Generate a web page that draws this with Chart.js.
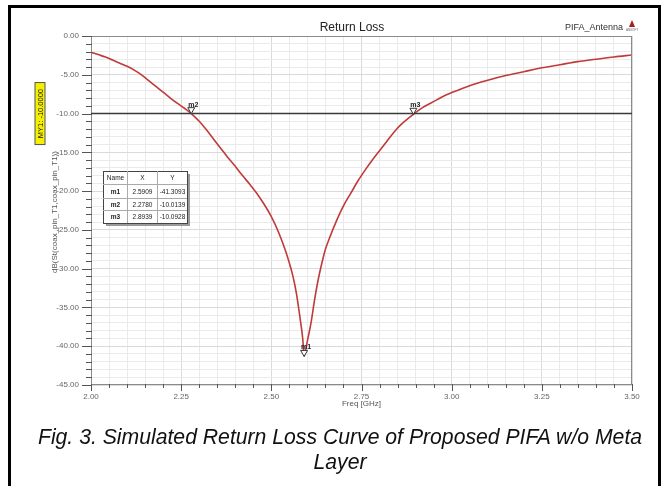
<!DOCTYPE html>
<html>
<head>
<meta charset="utf-8">
<script src="https://cdn.jsdelivr.net/npm/chart.js@4/dist/chart.umd.min.js"></script>
<style>
  body { margin: 0; background: #fff; }
  #wrap { position: relative; width: 665px; height: 486px; overflow: hidden; }
  #chart { position: absolute; left: 0; top: 0; }
  #frame {
    position: absolute; left: 8px; top: 5px; width: 647px; height: 500px;
    border-left: 3px solid #000; border-top: 3px solid #000; border-right: 3px solid #000;
  }
  #caption {
    position: absolute; left: 15px; width: 650px; top: 424px;
    text-align: center; font: italic 21.2px "Liberation Sans", Arial, sans-serif;
    line-height: 25px; color: #111;
  }
</style>
</head>
<body>
<div id="wrap">
  <div id="frame"></div>
  <canvas id="chart" width="665" height="486"></canvas>
  <div id="caption">Fig. 3. Simulated Return Loss Curve of Proposed PIFA w/o Meta<br>Layer</div>
</div>
<script>
/* DATA */
// S11 CURVE (GHz, dB)
const freqGHz = [2.00, 2.02, 2.04, 2.06, 2.08, 2.10, 2.12, 2.14, 2.16, 2.18, 2.20, 2.22, 2.24, 2.26, 2.278,
  2.30, 2.32, 2.34, 2.36, 2.38, 2.40, 2.42, 2.44, 2.46, 2.48, 2.50, 2.52, 2.54, 2.56, 2.57, 2.58, 2.587, 2.5909,
  2.595, 2.60, 2.605, 2.61, 2.62, 2.63, 2.64, 2.65, 2.66, 2.68, 2.70, 2.72, 2.74, 2.76, 2.78, 2.80, 2.82, 2.84,
  2.86, 2.8939, 2.92, 2.94, 2.96, 2.98, 3.00, 3.05, 3.10, 3.15, 3.20, 3.25, 3.30, 3.35, 3.40, 3.45, 3.50];
const returnLossDb = [-2.1, -2.4, -2.7, -3.1, -3.5, -3.9, -4.4, -5.0, -5.75, -6.5, -7.25, -8.0, -8.7, -9.35, -10.0,
  -11.0, -12.1, -13.3, -14.5, -15.7, -16.8, -18.0, -19.1, -20.3, -21.7, -23.3, -25.3, -27.8, -31.0, -33.3, -36.5,
  -39.0, -41.3, -40.5, -39.3, -38.2, -37.0, -34.0, -31.4, -29.3, -27.5, -26.2, -23.9, -21.9, -20.3, -18.7, -17.3,
  -16.0, -14.8, -13.6, -12.4, -11.4, -10.09, -9.2, -8.7, -8.2, -7.7, -7.3, -6.4, -5.7, -5.1, -4.6, -4.1, -3.7,
  -3.3, -3.0, -2.7, -2.45];
// MARKERS
const markerNames = ["m1", "m2", "m3"];
const markerFreq = [2.5909, 2.2780, 2.8939];
const markerDb = [-41.3093, -10.0139, -10.0928];
const refLineDb = -10;
// AXES
const xMin = 2.0, xMax = 3.5, xMinorStep = 0.05, xMajorStep = 0.25;
const yMin = -45, yMax = 0, yMinorStep = 1, yMajorStep = 5;

const narrow = '"Liberation Sans Narrow", "Liberation Sans", Arial, sans-serif';

function isMajor(v, step) {
  return Math.abs(v / step - Math.round(v / step)) < 1e-6;
}

/* DECORATIONS: TICKS, BORDER, MARKERS, TABLE, TITLES */
const decor = {
  id: "decor",
  afterDatasetsDraw(chart) {
    const ctx = chart.ctx;
    const a = chart.chartArea;
    const xs = chart.scales.x;
    const ys = chart.scales.y;
    ctx.save();

    // plot border
    ctx.strokeStyle = "#8a8a8a";
    ctx.lineWidth = 1;
    ctx.strokeRect(a.left + 0.5, a.top + 0.5, a.right - a.left - 1, a.bottom - a.top - 1);

    // tick marks
    ctx.strokeStyle = "#555";
    ys.ticks.forEach((t) => {
      const y = Math.round(ys.getPixelForValue(t.value)) + 0.5;
      const len = isMajor(t.value, yMajorStep) ? 9 : 5;
      ctx.beginPath();
      ctx.moveTo(a.left - len, y);
      ctx.lineTo(a.left + 1, y);
      ctx.stroke();
    });
    xs.ticks.forEach((t) => {
      const x = Math.round(xs.getPixelForValue(t.value)) + 0.5;
      const len = isMajor(t.value, xMajorStep) ? 6 : 3;
      ctx.beginPath();
      ctx.moveTo(x, a.bottom - 1);
      ctx.lineTo(x, a.bottom + len);
      ctx.stroke();
    });

    // reference line at -10 dB
    const yRef = ys.getPixelForValue(refLineDb);
    ctx.strokeStyle = "#3a3a3a";
    ctx.lineWidth = 1.5;
    ctx.beginPath();
    ctx.moveTo(a.left, yRef);
    ctx.lineTo(a.right, yRef);
    ctx.stroke();

    // marker triangles + labels
    ctx.lineWidth = 1;
    ctx.strokeStyle = "#333";
    ctx.font = "bold 7px " + narrow;
    ctx.textAlign = "center";
    ctx.textBaseline = "alphabetic";
    markerNames.forEach((name, i) => {
      const px = xs.getPixelForValue(markerFreq[i]);
      const py = ys.getPixelForValue(markerDb[i]);
      ctx.beginPath();
      ctx.moveTo(px, py);
      ctx.lineTo(px - 3.5, py - 6);
      ctx.lineTo(px + 3.5, py - 6);
      ctx.closePath();
      ctx.fillStyle = "#fff";
      ctx.fill();
      ctx.stroke();
      ctx.fillStyle = "#222";
      ctx.fillText(name, px + 2, py - 7);
    });

    // marker table
    const tx = 103, ty = 171;
    const colW = [24, 30, 30];
    const rowH = [13, 14, 12, 13];
    const tw = colW[0] + colW[1] + colW[2];
    const th = rowH[0] + rowH[1] + rowH[2] + rowH[3];
    ctx.fillStyle = "#9a9a9a";
    ctx.fillRect(tx + 3, ty + 3, tw, th);
    ctx.fillStyle = "#fff";
    ctx.fillRect(tx, ty, tw, th);
    ctx.strokeStyle = "#444";
    ctx.strokeRect(tx + 0.5, ty + 0.5, tw, th);
    ctx.strokeStyle = "#aaa";
    let cx = tx;
    for (let c = 0; c < 2; c++) {
      cx += colW[c];
      ctx.beginPath();
      ctx.moveTo(cx + 0.5, ty);
      ctx.lineTo(cx + 0.5, ty + th);
      ctx.stroke();
    }
    let ry = ty;
    for (let r = 0; r < 3; r++) {
      ry += rowH[r];
      ctx.beginPath();
      ctx.moveTo(tx, ry + 0.5);
      ctx.lineTo(tx + tw, ry + 0.5);
      ctx.stroke();
    }
    const rows = [["Name", "X", "Y"]];
    markerNames.forEach((name, i) => {
      rows.push([name, markerFreq[i].toFixed(4), markerDb[i].toFixed(4)]);
    });
    ctx.textBaseline = "middle";
    ctx.fillStyle = "#222";
    ry = ty;
    rows.forEach((row, r) => {
      let colX = tx;
      row.forEach((cell, c) => {
        ctx.font = (r > 0 && c === 0 ? "bold " : "") + "6.5px " + narrow;
        ctx.fillText(cell, colX + colW[c] / 2 + 0.5, ry + rowH[r] / 2 + 1);
        colX += colW[c];
      });
      ry += rowH[r];
    });

    // yellow MY1 tag
    ctx.save();
    ctx.translate(40, yRef);
    ctx.rotate(-Math.PI / 2);
    ctx.fillStyle = "#f5f000";
    ctx.fillRect(-31, -5, 62, 10);
    ctx.strokeStyle = "#555";
    ctx.strokeRect(-31, -5, 62, 10);
    ctx.fillStyle = "#111";
    ctx.font = "7.5px " + narrow;
    ctx.textAlign = "center";
    ctx.textBaseline = "middle";
    ctx.fillText("MY1: -10.0000", 0, 0.5);
    ctx.restore();

    // axis titles
    ctx.fillStyle = "#555";
    ctx.font = "8px " + narrow;
    ctx.textAlign = "center";
    ctx.textBaseline = "middle";
    ctx.fillText("Freq [GHz]", (a.left + a.right) / 2, 404);
    ctx.save();
    ctx.translate(55, 212);
    ctx.rotate(-Math.PI / 2);
    ctx.fillText("dB(St(coax_pin_T1,coax_pin_T1))", 0, 0);
    ctx.restore();

    // chart title + project name + logo
    ctx.fillStyle = "#222";
    ctx.font = "12px " + narrow;
    ctx.fillText("Return Loss", 352, 28);
    ctx.font = "9px " + narrow;
    ctx.fillStyle = "#333";
    ctx.fillText("PIFA_Antenna", 594, 28);
    ctx.fillStyle = "#a02020";
    ctx.beginPath();
    ctx.moveTo(632, 20);
    ctx.lineTo(629, 27);
    ctx.lineTo(635, 27);
    ctx.closePath();
    ctx.fill();
    ctx.fillStyle = "#666";
    ctx.font = "3px " + narrow;
    ctx.fillText("ANSOFT", 632, 30);

    ctx.restore();
  },
};

/* CHART */
const chartCanvas = document.getElementById("chart");

const s11Chart = new Chart(chartCanvas, {
  type: "line",
  data: {
    datasets: [
      {
        label: "dB(St)",
        data: freqGHz.map((f, i) => ({ x: f, y: returnLossDb[i] })),
        borderColor: "#c03a3a",
        borderWidth: 1.6,
        pointRadius: 0,
        tension: 0.3,
        cubicInterpolationMode: "monotone",
      },
    ],
  },
  options: {
    responsive: false,
    animation: false,
    layout: { padding: { left: 0, top: 36, right: 33, bottom: 0 } },
    plugins: {
      legend: { display: false },
      tooltip: { enabled: false },
      title: { display: false },
    },
    scales: {
      x: {
        type: "linear",
        min: xMin,
        max: xMax,
        afterFit: (scale) => { scale.height = 101; },
        ticks: {
          stepSize: xMinorStep,
          autoSkip: false,
          maxRotation: 0,
          padding: 7,
          color: "#666",
          font: { size: 8, family: narrow },
          callback: (v) => (isMajor(v, xMajorStep) ? v.toFixed(2) : ""),
        },
        grid: {
          drawTicks: false,
          color: (c) => (c.tick && isMajor(c.tick.value, xMajorStep) ? "#dadada" : "#eaeaea"),
        },
        border: { display: false },
      },
      y: {
        min: yMin,
        max: yMax,
        afterFit: (scale) => { scale.width = 91; },
        ticks: {
          stepSize: yMinorStep,
          autoSkip: false,
          padding: 12,
          color: "#666",
          font: { size: 8, family: narrow },
          callback: (v) => (isMajor(v, yMajorStep) ? v.toFixed(2) : ""),
        },
        grid: {
          drawTicks: false,
          color: (c) => (c.tick && isMajor(c.tick.value, yMajorStep) ? "#dadada" : "#eaeaea"),
        },
        border: { display: false },
      },
    },
  },
  plugins: [decor],
});
</script>
</body>
</html>
